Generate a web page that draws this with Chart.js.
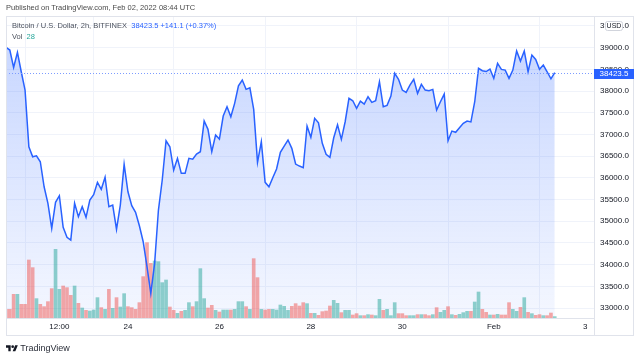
<!DOCTYPE html>
<html>
<head>
<meta charset="utf-8">
<script src="https://cdn.jsdelivr.net/npm/chart.js@4.4.0/dist/chart.umd.min.js"></script>
<style>
body { margin: 0; background: #fff; font-family: "Liberation Sans", Arial, sans-serif; }
#wrap { position: relative; width: 640px; height: 358px; overflow: hidden; }
canvas { position: absolute; left: 0; top: 0; }
.t { position: absolute; white-space: nowrap; font-size: 7.5px; color: #131722; line-height: 10px; }
</style>
</head>
<body>
<div id="wrap">
  <canvas id="chart" width="640" height="358"></canvas>
  <div class="t" style="left:6px;top:3px;color:#4a4a4a;">Published on TradingView.com, Feb 02, 2022 08:44 UTC</div>
  <div class="t" style="left:12px;top:21px;color:#4c525e;">Bitcoin / U.S. Dollar, 2h, BITFINEX&nbsp; <span id="quote" style="color:#2962ff"></span></div>
  <div class="t" style="left:12px;top:32px;color:#4c525e;">Vol&nbsp; <span id="vol" style="color:#26a69a"></span></div>
  <div class="t" style="left:6px;top:343px;font-size:9px;color:#2a2e39;">
    <svg width="12" height="8" viewBox="0 0 36 24" style="vertical-align:-1px"><path d="M14 22H7V11H0V4h14v18zM28 22h-8l7.5-18h8L28 22z" fill="#131722"/><circle cx="20" cy="8" r="4" fill="#131722"/></svg>
    TradingView</div>
</div>
<script>
// BTC/USD 2h closes, Jan 21 08:00 -> Feb 2 08:00 (one per bar)
const prices = [
  39007, 38945, 38546, 38892, 38445, 38023, 36717, 36486, 36509, 36371,
  35795, 35413, 34837, 35436, 35588, 34860, 34629, 34567, 35413, 35104,
  35334, 35090, 35489, 35611, 35897, 35735, 36012, 35334, 35373, 34814,
  35373, 36311, 35680, 35357, 35205, 34897, 34528, 33952, 33339, 34030,
  35258, 35950, 36855, 36717, 36180, 36449, 36104, 36104, 36449, 36430,
  36549, 36602, 37309, 37118, 36602, 36986, 36894, 37424, 37638, 37408,
  37717, 38122, 38254, 38039, 38076, 37578, 36357, 36832, 35897, 35795,
  36003, 36203, 36588, 36733, 36871, 36680, 36318, 36272, 36233, 37194,
  36933, 37371, 37270, 36795, 36542, 36473, 36924, 37224, 36887, 37293,
  37832, 37777, 37601, 37770, 37701, 37869, 37740, 37777, 38214, 37638,
  37671, 37885, 38408, 38270, 38023, 37970, 38138, 38270, 37947, 38154,
  38023, 38010, 38039, 37562, 37754, 37931, 36855, 37078, 37049, 37155,
  37256, 37309, 37290, 37754, 38523, 38468, 38450, 38507, 38293, 38638,
  38500, 38484, 38293, 38484, 38922, 38691, 38922, 38445, 38830, 38730,
  38500, 38599, 38445, 38282.4, 38423.5
];
const volumes = [
  173, 173, 473, 473, 273, 273, 1160, 1007, 387, 273,
  227, 327, 587, 1373, 573, 640, 607, 453, 640, 293,
  200, 153, 140, 160, 407, 207, 173, 573, 193, 407,
  220, 487, 227, 207, 173, 307, 827, 1507, 1093, 1140,
  1127, 707, 760, 220, 153, 93, 133, 153, 307, 227,
  327, 987, 387, 200, 253, 153, 120, 160, 160, 160,
  173, 327, 327, 227, 173, 1187, 807, 173, 160, 173,
  173, 160, 260, 233, 153, 233, 287, 240, 307, 287,
  93, 93, 53, 127, 140, 240, 353, 293, 107, 153,
  153, 60, 87, 47, 47, 67, 60, 47, 373, 153,
  173, 47, 307, 87, 87, 47, 47, 47, 67, 67,
  67, 47, 67, 207, 113, 153, 227, 67, 53, 73,
  107, 133, 133, 320, 520, 173, 113, 60, 60, 73,
  60, 60, 307, 173, 133, 213, 407, 113, 87, 53,
  67, 47, 47, 100, 28
];
const xTickIdx = [14, 32, 56, 80, 104, 128, 152];
const xTickLabels = ['12:00', '24', '26', '28', '30', 'Feb', '3'];
const yTicks = [33000, 33500, 34000, 34500, 35000, 35500, 36000, 36500, 37000, 37500, 38000, 38500, 39000, 39500];

const upColor = 'rgba(38,166,154,0.5)';
const downColor = 'rgba(239,83,80,0.5)';
const lineColor = '#2962ff';

const last = prices[prices.length - 1];
const prev = prices[prices.length - 2];
const chg = last - prev;
document.getElementById('quote').textContent =
  `${last.toFixed(1)}  +${chg.toFixed(1)} (+${(chg / prev * 100).toFixed(2)}%)`;
document.getElementById('vol').textContent = volumes[volumes.length - 1];

const pts = prices.map((p, i) => ({ x: i, y: p }));
const bars = volumes.map((v, i) => ({ x: i, y: v }));
const barColors = volumes.map((v, i) => (i > 0 && prices[i] >= prices[i - 1]) ? upColor : downColor);

const overlay = {
  id: 'overlay',
  afterDatasetsDraw(chart) {
    const { ctx, chartArea: a, scales } = chart;
    const py = Math.round(scales.y.getPixelForValue(last)) + 0.5;
    ctx.save();
    ctx.strokeStyle = '#7d9cff';
    ctx.lineWidth = 1;
    ctx.setLineDash([1, 2]);
    ctx.beginPath();
    ctx.moveTo(a.left, py);
    ctx.lineTo(a.right, py);
    ctx.stroke();
    ctx.restore();
  },
  afterDraw(chart) {
    const { ctx, chartArea: a, scales } = chart;
    ctx.save();
    // frame + price axis separator
    ctx.strokeStyle = '#e0e3eb';
    ctx.lineWidth = 1;
    ctx.strokeRect(6.5, 16.5, 627, 319);
    ctx.beginPath();
    ctx.moveTo(a.right + 0.5, 16);
    ctx.lineTo(a.right + 0.5, 336);
    ctx.stroke();
    // last price label
    const py = Math.round(scales.y.getPixelForValue(last));
    ctx.fillStyle = lineColor;
    ctx.fillRect(a.right, py - 4, 40, 10);
    ctx.fillStyle = '#fff';
    ctx.font = '8px "Liberation Sans", Arial, sans-serif';
    ctx.textAlign = 'center';
    ctx.textBaseline = 'middle';
    ctx.fillText(last.toFixed(1), a.right + 20, py + 1);
    // currency badge
    const uy = Math.round(scales.y.getPixelForValue(39500));
    ctx.fillStyle = '#fff';
    ctx.strokeStyle = '#d1d4dc';
    ctx.beginPath();
    ctx.roundRect(605.5, uy - 4.5, 17, 9, 2);
    ctx.fill();
    ctx.stroke();
    ctx.fillStyle = '#131722';
    ctx.font = '7px "Liberation Sans", Arial, sans-serif';
    ctx.fillText('USD', 614, uy + 0.5);
    ctx.restore();
  }
};

new Chart(document.getElementById('chart'), {
  type: 'bar',
  data: {
    datasets: [
      {
        type: 'line',
        data: pts,
        yAxisID: 'y',
        borderWidth: 0,
        pointRadius: 0,
        fill: 'start',
        backgroundColor: (c) => {
          const a = c.chart.chartArea;
          if (!a) return 'rgba(41,98,255,0.15)';
          const g = c.chart.ctx.createLinearGradient(0, a.top, 0, a.bottom);
          g.addColorStop(0, 'rgba(41,98,255,0.28)');
          g.addColorStop(1, 'rgba(41,98,255,0.05)');
          return g;
        },
        order: 3
      },
      {
        type: 'bar',
        data: bars,
        yAxisID: 'yv',
        backgroundColor: barColors,
        barThickness: 3,
        order: 2
      },
      {
        type: 'line',
        data: pts,
        yAxisID: 'y',
        borderColor: lineColor,
        borderWidth: 1.5,
        pointRadius: 0,
        fill: false,
        tension: 0,
        order: 1
      }
    ]
  },
  options: {
    responsive: false,
    animation: false,
    devicePixelRatio: 1,
    layout: { padding: { left: 6, top: 16, right: 6, bottom: 22 } },
    plugins: { legend: { display: false }, tooltip: { enabled: false } },
    scales: {
      x: {
        type: 'linear',
        min: 0,
        max: 154.3,
        offset: false,
        afterBuildTicks: (s) => { s.ticks = xTickIdx.map(v => ({ value: v })); },
        afterFit: (s) => { s.height = 18; },
        ticks: {
          callback: (v) => xTickLabels[xTickIdx.indexOf(v)],
          autoSkip: false,
          maxRotation: 0,
          padding: 4,
          color: '#131722',
          font: { size: 8, family: '"Liberation Sans", Arial, sans-serif' }
        },
        grid: { color: '#f0f3fa', drawTicks: false },
        border: { color: '#e0e3eb' }
      },
      y: {
        type: 'linear',
        position: 'right',
        min: 32770,
        max: 39730,
        afterBuildTicks: (s) => { s.ticks = yTicks.map(v => ({ value: v })); },
        afterFit: (s) => { s.width = 40; },
        ticks: {
          callback: (v) => v.toFixed(1),
          padding: 6,
          color: '#131722',
          font: { size: 8, family: '"Liberation Sans", Arial, sans-serif' }
        },
        grid: { color: '#f0f3fa', drawTicks: false },
        border: { color: '#e0e3eb' }
      },
      yv: { display: false, min: 0, max: 6040 }
    }
  },
  plugins: [overlay]
});
</script>
</body>
</html>
